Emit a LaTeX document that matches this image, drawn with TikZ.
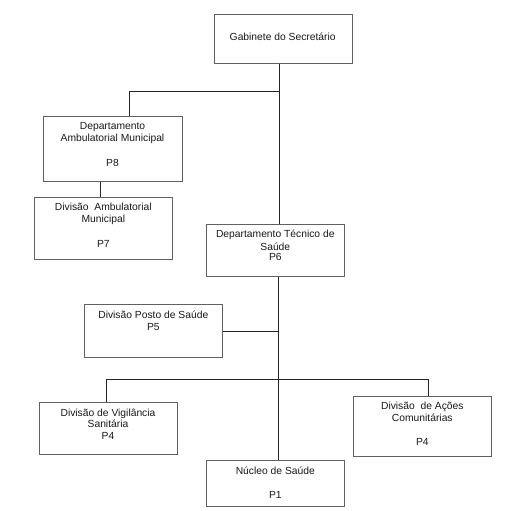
\documentclass[tikz,border=0pt]{standalone}
\usepackage{fontspec}
\setmainfont{Liberation Sans}
\begin{document}
\begin{tikzpicture}[x=1pt,y=-1pt,
  box/.style={draw=black!62, line width=1pt, fill=white, inner sep=0pt, anchor=north west, rectangle},
  conn/.style={draw=black!85, line width=0.9pt},
  lbl/.style={anchor=mid, inner sep=0pt, font=\fontsize{10.3}{12}\selectfont, text=black!90}]
\path[use as bounding box, fill=white] (0,0) rectangle (507,511);

% boxes
\node[box, minimum width=138pt, minimum height=48.7pt] (gab) at (213.7,14.3) {};
\node[box, minimum width=138.4pt, minimum height=65.3pt] (damb) at (43.3,115.7) {};
\node[box, minimum width=138pt, minimum height=62.6pt] (divamb) at (34.3,196.7) {};
\node[box, minimum width=138pt, minimum height=52pt] (dtec) at (206.3,224) {};
\node[box, minimum width=138pt, minimum height=53pt] (posto) at (84.3,304.3) {};
\node[box, minimum width=138pt, minimum height=52pt] (vig) at (39,402.3) {};
\node[box, minimum width=138pt, minimum height=59.7pt] (acoes) at (353.3,396) {};
\node[box, minimum width=138pt, minimum height=45.4pt] (nuc) at (206.3,460.3) {};

% junction points
\coordinate (j1) at (279.3,91);
\coordinate (j1l) at (129,91);
\coordinate (j0) at (100,190);
\coordinate (j2) at (278.3,331);
\coordinate (j3) at (278.3,379);
\coordinate (j3l) at (106.7,379);
\coordinate (j3r) at (428.3,379);

% connectors
\draw[conn] (gab.south -| j1) -- (j1) -- (j1 |- dtec.north);
\draw[conn] (j1) -- (j1l) -- (j1l |- damb.north);
\draw[conn] (damb.south -| j0) -- (j0 |- divamb.north);
\draw[conn] (dtec.south -| j2) -- (j2) -- (j3) -- (j3 |- nuc.north);
\draw[conn] (posto.east) -- (posto.east -| j2);
\draw[conn] (j3l) -- (j3r);
\draw[conn] (j3l) -- (j3l |- vig.north);
\draw[conn] (j3r) -- (j3r |- acoes.north);

% labels
\node[lbl] (t1) at (282.7,37.7) {Gabinete do Secretário};
\node[lbl] (t2) at (112.5,127) {Departamento};
\node[lbl] (t3) at (112.5,138.7) {Ambulatorial Municipal};
\node[lbl] (t4) at (112.5,163.7) {P8};
\node[lbl] (t5) at (103.3,208.3) {Divisão\ \ Ambulatorial};
\node[lbl] (t6) at (103.3,220.3) {Municipal};
\node[lbl] (t7) at (103.3,245.3) {P7};
\node[lbl] (t8) at (275.3,235.3) {Departamento Técnico de};
\node[lbl] (t9) at (275.3,247.7) {Saúde};
\node[lbl] (t10) at (275.3,258.3) {P6};
\node[lbl] (t11) at (153.3,316) {Divisão Posto de Saúde};
\node[lbl] (t12) at (153.3,328.3) {P5};
\node[lbl] (t13) at (108,414) {Divisão de Vigilância};
\node[lbl] (t14) at (108,425) {Sanitária};
\node[lbl] (t15) at (108,436.7) {P4};
\node[lbl] (t16) at (422.3,407) {Divisão\ \ de Ações};
\node[lbl] (t17) at (422.3,419.3) {Comunitárias};
\node[lbl] (t18) at (422.3,443.3) {P4};
\node[lbl] (t19) at (275.3,472) {Núcleo de Saúde};
\node[lbl] (t20) at (275.3,495.7) {P1};
\end{tikzpicture}
\end{document}
